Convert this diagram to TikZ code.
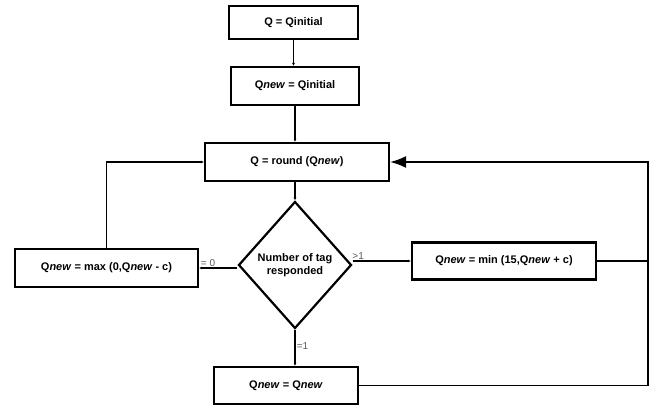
\documentclass[tikz,border=0pt]{standalone}
\usepackage{fontspec}
\setmainfont{Liberation Sans}
\usetikzlibrary{arrows.meta,shapes.geometric}

\begin{document}
\begin{tikzpicture}[x=1pt,y=-1pt,line width=1.7pt,
  box/.style={draw,rectangle,line width=2.2pt,inner sep=1pt,font=\bfseries\fontsize{11}{13}\selectfont},
  dec/.style={draw,diamond,line width=2.2pt,inner sep=0pt,minimum width=113pt,minimum height=127pt,
    align=center,font=\bfseries\fontsize{11}{13}\selectfont},
  lbl/.style={font=\fontsize{10}{11}\selectfont,text=black!65,inner sep=1pt},
  flow/.style={-{Latex[length=3pt,width=3pt]}},
  back/.style={-{Latex[length=16pt,width=12pt]}}]
\useasboundingbox (0,0) rectangle (656,405);
\node[box,minimum width=129pt,minimum height=33pt] (init) at (293.5,22.5) {Q = Qinitial};
\node[box,minimum width=128pt,minimum height=38pt] (qnew) at (295,86) {Q\textit{new} = Qinitial};
\node[box,minimum width=184pt,minimum height=38pt] (round) at (297,162) {Q = round (Q\textit{new})};
\node[dec] (tags) at (295,265) {Number of tag\\responded};
\node[box,minimum width=183pt,minimum height=38pt] (dec) at (106.5,268) {Q\textit{new} = max (0,Q\textit{new} - c)};
\node[box,minimum width=184pt,minimum height=37pt] (inc) at (504,261) {Q\textit{new} = min (15,Q\textit{new} + c)};
\node[box,minimum width=144pt,minimum height=37pt] (same) at (286,385.5) {Q\textit{new} = Q\textit{new}};
\coordinate (rc) at (648,162);
% main flow
\draw[flow,line width=1.1pt] (init.south) -- (init.south |- qnew.north);
\draw[flow,line width=1.1pt] (qnew.south) -- (qnew.south |- round.north);
\draw[flow] (round.south -| tags.north) -- (tags.north);
\draw[flow] (tags.west |- dec.east) -- (dec.east) node[lbl,above right] {= 0};
\draw[flow] (tags.east |- inc.west) -- (inc.west) node[lbl,pos=0,above right,xshift=-2pt] {>1};
\draw[flow] (tags.south) -- (tags.south |- same.north) node[lbl,pos=0.45,right] {=1};
% loops back
\draw[flow] (dec.north) |- (round.west);
\draw (inc.east) -- (inc.east -| rc);
\draw[back] (same.east) -| (rc) -- (round.east);
\end{tikzpicture}
\end{document}
